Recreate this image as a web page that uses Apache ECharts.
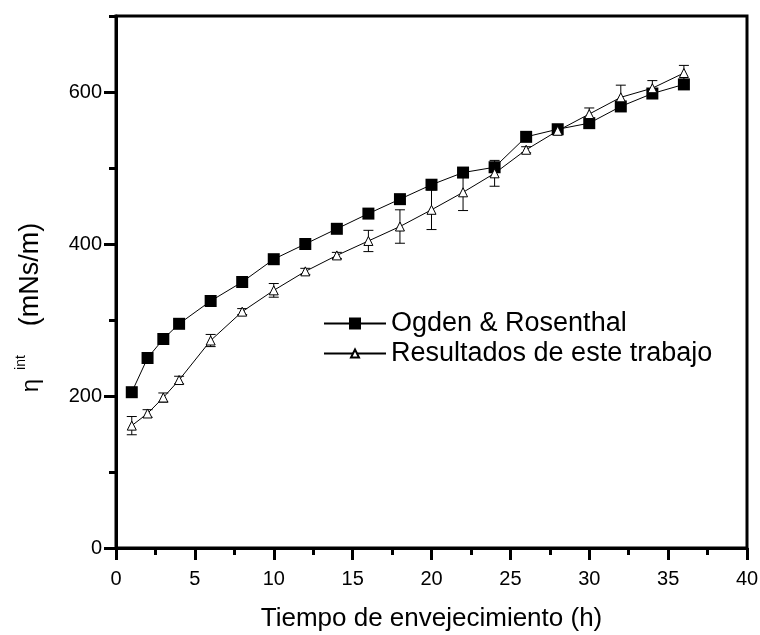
<!DOCTYPE html>
<html><head><meta charset="utf-8">
<script src="https://cdn.jsdelivr.net/npm/echarts@6/dist/echarts.min.js"></script>
<style>html,body{margin:0;padding:0;background:#fff}#c{width:760px;height:635px}</style>
</head><body><div id="c"></div>
<script>
const seriesNames = ['Ogden & Rosenthal', 'Resultados de este trabajo'];
const ogdenX = [1, 2, 3, 4, 6, 8, 10, 12, 14, 16, 18, 20, 22, 24, 26, 28, 30, 32, 34, 36];
const ogdenY = [205, 250, 275, 295, 325, 350, 380, 400, 420, 440, 459, 478, 494, 501, 541, 551, 559, 581, 598, 610];
const resX = [1, 2, 3, 4, 6, 8, 10, 12, 14, 16, 18, 20, 22, 24, 26, 28, 30, 32, 34, 36];
const resY = [161, 177, 198, 221, 273, 311, 339, 364, 385, 404, 423, 445, 468, 493, 524, 549, 571, 593, 605, 625];
const resErr = [12, 5, 6, 5, 8, 4, 9, 4, 4, 14, 22, 26, 24, 17, 4, 5, 8, 16, 10, 10];
const yMajorTicks = [0, 200, 400, 600];
const yMinorTicks = [100, 300, 500, 700];
const xTitle = 'Tiempo de envejecimiento (h)';

const FONT = '"Liberation Sans", Arial, sans-serif';
const ogdenData = ogdenX.map((x, i) => [x, ogdenY[i]]);
const resData = resX.map((x, i) => [x, resY[i]]);
const errData = resX.map((x, i) => [x, resY[i] - resErr[i], resY[i] + resErr[i]]);

const chart = echarts.init(document.getElementById('c'), null, {renderer: 'canvas'});
chart.setOption({
  backgroundColor: '#fff',
  animation: false,
  textStyle: {fontFamily: FONT, color: '#000'},
  grid: {left: 116, right: 13, top: 16, bottom: 87, containLabel: false, outerBoundsMode: 'none',
         show: true, borderColor: '#000', borderWidth: 3, backgroundColor: 'transparent'},
  xAxis: {
    type: 'value', min: 0, max: 40, interval: 5,
    axisLine: {show: true, lineStyle: {color: '#000', width: 3}},
    axisTick: {show: true, length: 12, lineStyle: {color: '#000', width: 3}},
    minorTick: {show: true, splitNumber: 2, length: 7, lineStyle: {color: '#000', width: 3}},
    splitLine: {show: false},
    axisLabel: {fontSize: 20, color: '#000', margin: 21, fontFamily: FONT},
    name: xTitle, nameLocation: 'middle', nameGap: 58,
    nameTextStyle: {fontSize: 26, color: '#000', fontFamily: FONT}
  },
  yAxis: [{
    type: 'value', min: 0, max: 700, interval: 100,
    axisLine: {show: true, lineStyle: {color: '#000', width: 3}},
    axisTick: {show: true, length: 12, customValues: yMajorTicks, lineStyle: {color: '#000', width: 3}},
    splitLine: {show: false},
    axisLabel: {fontSize: 20, color: '#000', margin: 14, customValues: yMajorTicks, fontFamily: FONT},
    name: '{eta|η}{sup|int}{unit|(mNs/m)}',
    nameLocation: 'middle', nameRotate: 90, nameGap: 68,
    nameTextStyle: {
      color: '#000', fontFamily: FONT,
      rich: {
        eta: {fontSize: 24, fontFamily: FONT, color: '#000'},
        sup: {fontSize: 14, fontFamily: FONT, color: '#000', verticalAlign: 'top', padding: [0, 0, 20, 9]},
        unit: {fontSize: 27, fontFamily: FONT, color: '#000', padding: [0, 51, 0, 29]}
      }
    }
  }, {
    type: 'value', min: 0, max: 700, interval: 100, position: 'left', offset: 0,
    axisLine: {show: false},
    axisTick: {show: true, length: 7, customValues: yMinorTicks, lineStyle: {color: '#000', width: 3}},
    axisLabel: {show: false},
    splitLine: {show: false}
  }],
  legend: [{
    data: [seriesNames[0]], orient: 'vertical', left: 323, top: 310, padding: 0,
    itemWidth: 62, itemHeight: 15, selectedMode: false,
    textStyle: {fontSize: 27, color: '#000', fontFamily: FONT}
  }, {
    data: [seriesNames[1]], orient: 'vertical', left: 323, top: 340, padding: 0,
    itemWidth: 62, itemHeight: 10, selectedMode: false,
    textStyle: {fontSize: 27, color: '#000', fontFamily: FONT}
  }],
  series: [{
    type: 'custom', name: 'err', z: 1, silent: true,
    encode: {x: 0, y: [1, 2]},
    data: errData,
    renderItem: function (params, api) {
      const x = api.value(0);
      const pLo = api.coord([x, api.value(1)]);
      const pHi = api.coord([x, api.value(2)]);
      const hw = 5;
      const st = {stroke: '#000', lineWidth: 1};
      return {type: 'group', children: [
        {type: 'line', shape: {x1: pLo[0], y1: pLo[1], x2: pHi[0], y2: pHi[1]}, style: st},
        {type: 'line', shape: {x1: pLo[0] - hw, y1: pLo[1], x2: pLo[0] + hw, y2: pLo[1]}, style: st},
        {type: 'line', shape: {x1: pHi[0] - hw, y1: pHi[1], x2: pHi[0] + hw, y2: pHi[1]}, style: st}
      ]};
    }
  }, {
    type: 'line', name: seriesNames[0], z: 3, data: ogdenData,
    symbol: 'rect', symbolSize: 12,
    lineStyle: {color: '#000', width: 1},
    itemStyle: {color: '#000', borderColor: '#000', borderWidth: 0}
  }, {
    type: 'line', name: seriesNames[1], z: 4, data: resData,
    symbol: 'triangle', symbolSize: 9,
    lineStyle: {color: '#000', width: 1},
    itemStyle: {color: '#fff', borderColor: '#000', borderWidth: 1}
  }]
});
</script></body></html>
